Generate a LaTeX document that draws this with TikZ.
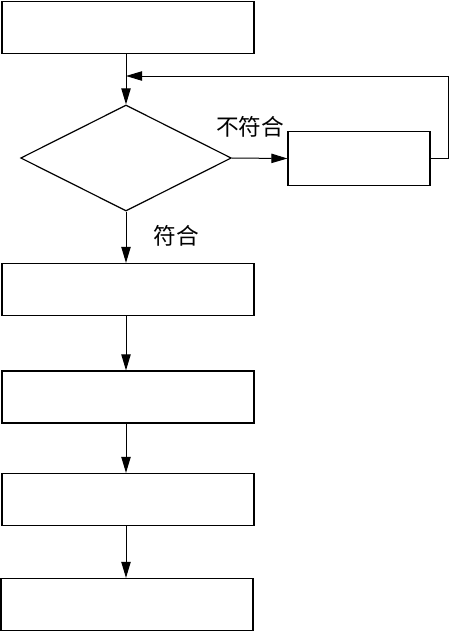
\documentclass[tikz,border=0pt]{standalone}
\usepackage{fontspec}
\newfontfamily\cjk{Noto Sans CJK SC}
\usetikzlibrary{arrows.meta,shapes.geometric}
\tikzset{
  box/.style={draw, line width=0.9pt, minimum width=189pt, minimum height=39pt, inner sep=0pt},
  smallbox/.style={draw, line width=0.9pt, minimum width=106.5pt, minimum height=40pt, inner sep=0pt},
  check/.style={draw, diamond, line width=0.9pt, minimum width=158pt, minimum height=79.5pt, inner sep=0pt},
  arr/.style={line width=0.75pt, -{Triangle[length=12pt,width=7pt]}},
  lbl/.style={font=\cjk\fontsize{17}{19}\selectfont}
}
\begin{document}
\begin{tikzpicture}[x=0.75pt,y=-0.75pt]
%\draw [color=gray, very thin] (0,0) grid [step=50] (450,633);
\useasboundingbox (0,0) rectangle (450,633);
\node [box] (b1) at (128,27.5) {};
\node [check] (chk) at (126,158) {};
\node [smallbox] (fix) at (359,158.5) {};
\node [box] (b2) at (128,289.5) {};
\node [box] (b3) at (128,397) {};
\node [box] (b4) at (128,499.5) {};
\node [box] (b5) at (127,604.5) {};
\coordinate (j) at (126,76);
\draw [arr] (b1.south -| chk.north) -- (chk.north);
\draw [arr] (chk.east) -- (fix.west);
\draw [arr] (fix.east) -- ++(18,0) |- (j);
\draw [arr] (chk.south) -- (b2.north -| chk.south);
\draw [arr] (b2.south -| chk.south) -- (b3.north -| chk.south);
\draw [arr] (b3.south -| chk.south) -- (b4.north -| chk.south);
\draw [arr] (b4.south -| chk.south) -- (b5.north -| chk.south);
\node [lbl] (no) at (250,127) {不符合};
\node [lbl] (yes) at (176,236) {符合};
\end{tikzpicture}
\end{document}
